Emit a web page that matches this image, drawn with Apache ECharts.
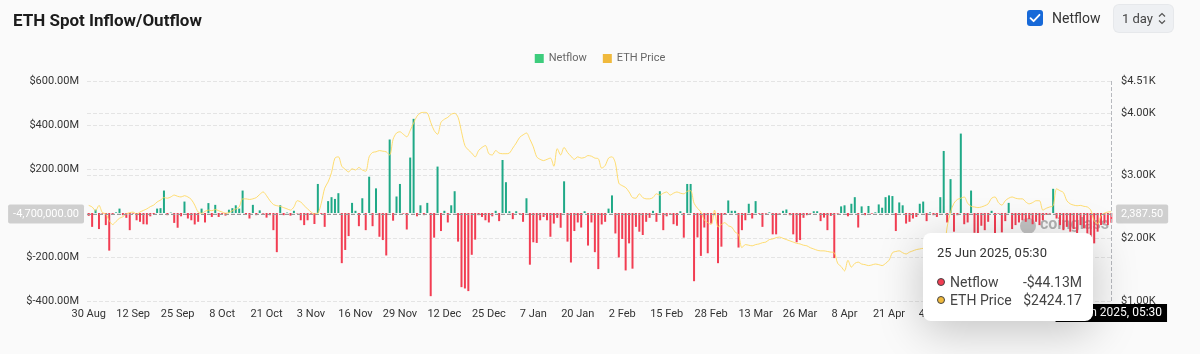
<!DOCTYPE html>
<html>
<head>
<meta charset="utf-8">
<title>ETH Spot Inflow/Outflow</title>
<script src="https://cdn.jsdelivr.net/npm/echarts@6/dist/echarts.min.js"></script>
<style>
  html, body { margin: 0; padding: 0; background: #fafafa; }
  #wrap { position: relative; width: 1200px; height: 354px; }
  #chart { position: absolute; left: 0; top: 0; width: 1200px; height: 354px; }
  .chk { position: absolute; left: 1027px; top: 10px; width: 16px; height: 16px; border-radius: 3px; background: #1769d8; }
  .chk-label { position: absolute; left: 1052px; top: 8px; font: 14px Roboto, sans-serif; color: #333; line-height: 20px; }
  .sel { position: absolute; left: 1114px; top: 5px; width: 59px; height: 27px; border-radius: 5px; background: #eef0f3;
         box-shadow: 0 0 0 1px #e6e8eb; font: 13px Roboto, sans-serif; color: #444; line-height: 27px; }
  .sel span { position: absolute; left: 8px; }
  .sel svg { position: absolute; left: 44px; top: 7px; }
</style>
</head>
<body>
<div id="wrap">
  <div id="chart"></div>
  <div class="chk">
    <svg width="16" height="16" viewBox="0 0 16 16"><path d="M3.5 8.2 L6.6 11.2 L12.5 4.8" fill="none" stroke="#fff" stroke-width="1.8" stroke-linecap="round" stroke-linejoin="round"/></svg>
  </div>
  <div class="chk-label">Netflow</div>
  <div class="sel"><span>1 day</span>
    <svg width="8" height="13" viewBox="0 0 8 13"><path d="M1 4.5 L4 1.5 L7 4.5 M1 8.5 L4 11.5 L7 8.5" fill="none" stroke="#555" stroke-width="1.2"/></svg>
  </div>
</div>
<script>
// daily netflow, in millions of USD, from 30 Aug 2024
const netflowM = [
  -13, -63, 15, -73, -3, -55, -171, -4, 3, 20,
  -10, -22, -78, -3, -33, -40, -51, -52, -15, -5,
  20, 22, 102, -10, 2, -45, -67, -15, 52, -25,
  -33, -52, -40, 20, -43, 45, -18, 37, -18, -4,
  -12, 15, 22, 35, 20, 102, -8, -25, 37, -10,
  12, -3, -21, -10, -78, -178, 35, -10, 2, -12,
  10, -2, -33, -55, -33, -3, -50, 132, -4, -63,
  54, 72, 64, 90, -228, -168, -105, 46, 10, -60,
  67, -78, 165, -60, 112, -108, -123, -193, 334, -35,
  75, 132, -3, -75, 252, 428, -15, 35, -10, 46,
  -378, -112, 211, -82, 10, -43, 35, 99, -130, -337,
  -343, -355, -190, -121, -10, -18, -33, -43, -15, 10,
  -37, 241, 140, 8, -28, 8, -3, -40, 67, -235,
  -133, -136, -33, -18, -33, -108, -48, -22, -67, 144,
  -130, -225, -82, -43, -66, 8, -148, -43, -178, -255,
  -52, -40, 20, 80, -93, -202, -118, -261, -138, -253,
  -63, -85, -100, -40, -22, 10, -40, 99, -78, -15,
  -3, -51, -58, 8, -112, 132, 132, -310, -111, -195,
  -66, -183, -48, -10, -228, -153, -5, 57, 10, 10,
  -157, -78, -33, 42, -25, 54, -3, -63, -3, 3,
  -97, -97, -3, 10, 16, -10, -97, -133, -123, -22,
  -10, -3, 8, 8, -37, -21, -78, -13, -205, -3,
  30, 35, -15, 42, 72, -66, 30, -10, 32, -3,
  3, 39, 24, 72, 80, 77, -82, 48, 35, -48,
  -40, -25, -18, 42, 52, -37, 3, -10, -18, 72,
  282, -43, 154, -85, -10, 361, -51, -43, 102, -90,
  -103, -58, -78, -40, 10, -100, -3, -88, -37, 46,
  -73, -55, -43, -33, -40, -28, -51, -40, -55, -33,
  -8, -3, 110, -25, -55, -78, -63, -85, -73, -100,
  -55, -70, -97, -255, -138, -85, -55, -48, -55, -44.13
];

// daily ETH price, USD
const ethPrice = [
  2525, 2500, 2440, 2525, 2410, 2390, 2280, 2220, 2270, 2320,
  2345, 2390, 2410, 2418, 2385, 2420, 2445, 2470, 2505, 2530,
  2580, 2610, 2650, 2640, 2660, 2690, 2670, 2660, 2680, 2660,
  2620, 2530, 2420, 2400, 2430, 2450, 2440, 2460, 2440, 2420,
  2400, 2410, 2440, 2470, 2500, 2630, 2630, 2620, 2630, 2650,
  2700, 2740, 2680, 2600, 2540, 2520, 2510, 2490, 2470, 2450,
  2500, 2600, 2580, 2520, 2470, 2420, 2390, 2400, 2560, 2800,
  2900, 3050, 3280, 3300, 3150, 3100, 3060, 3110, 3090, 3130,
  3090, 3070, 3300, 3370, 3380, 3400, 3390, 3380, 3330, 3580,
  3680, 3700, 3660, 3620, 3720, 3840, 3950, 4000, 4010, 4000,
  3850, 3720, 3660, 3850, 3900, 3930, 3980, 3995, 3930, 3700,
  3480, 3410, 3360, 3300, 3400, 3450, 3480, 3350, 3330, 3400,
  3360, 3350, 3350, 3360, 3440, 3520, 3610, 3650, 3680, 3580,
  3460, 3300, 3260, 3240, 3260, 3280, 3150, 3430, 3330, 3450,
  3370, 3310, 3260, 3300, 3280, 3290, 3320, 3310, 3280, 3270,
  3120, 3160, 3280, 3300, 3200, 2880, 2840, 2810, 2740, 2650,
  2640, 2710, 2650, 2630, 2630, 2650, 2710, 2690, 2720, 2740,
  2690, 2720, 2740, 2720, 2710, 2750, 2760, 2560, 2480, 2420,
  2290, 2250, 2220, 2450, 2180, 2220, 2250, 2200, 2180, 2100,
  2060, 1850, 1900, 1890, 1880, 1900, 1910, 1930, 1940, 1980,
  1990, 2010, 2020, 2000, 1980, 1960, 1940, 1920, 1910, 1890,
  1880, 1850, 1830, 1810, 1800, 1800, 1790, 1780, 1770, 1600,
  1550, 1480, 1650, 1540, 1600, 1620, 1590, 1580, 1565, 1575,
  1590, 1580, 1565, 1600, 1650, 1770, 1790, 1800, 1770, 1750,
  1780, 1800, 1820, 1830, 1840, 1830, 1820, 1810, 1800, 1820,
  1820, 2180, 2420, 2560, 2620, 2640, 2660, 2560, 2510, 2500,
  2490, 2500, 2520, 2550, 2640, 2660, 2570, 2530, 2600, 2640,
  2660, 2640, 2630, 2630, 2580, 2550, 2570, 2600, 2600, 2450,
  2480, 2500, 2520, 2790, 2760, 2730, 2600, 2550, 2530, 2520,
  2525, 2510, 2500, 2450, 2280, 2230, 2360, 2400, 2420, 2424.17
];

const startDate = '2024-08-30';
const sampleTime = '05:30';
const monthNames = ['Jan', 'Feb', 'Mar', 'Apr', 'May', 'Jun', 'Jul', 'Aug', 'Sep', 'Oct', 'Nov', 'Dec'];

const upColor = '#1fa987';
const downColor = '#f23d52';
const legendGreen = '#3dcc7c';
const priceColor = '#f0b93c';

// one category per day
const days = [];
const t0 = Date.parse(startDate + 'T00:00:00Z');
for (let i = 0; i < netflowM.length; i++) {
    days.push(new Date(t0 + i * 86400000).toISOString().slice(0, 10));
}

function shortDate(s) {
    const d = new Date(s + 'T00:00:00Z');
    return d.getUTCDate() + ' ' + monthNames[d.getUTCMonth()];
}
function fullDate(s) {
    const d = new Date(s + 'T00:00:00Z');
    return d.getUTCDate() + ' ' + monthNames[d.getUTCMonth()] + ' ' + d.getUTCFullYear() + ', ' + sampleTime;
}
function fmtNum(v) {
    return Number(v).toLocaleString('en-US', { minimumFractionDigits: 2, maximumFractionDigits: 2 });
}

const flowData = netflowM.map(v => ({
    value: v * 1e6,
    itemStyle: { color: v >= 0 ? upColor : downColor }
}));

function tipHtml(params) {
    let html = '<div style="font-size:13px;color:#333;line-height:20px;margin-bottom:10px">' +
        fullDate(params[0].axisValue) + '</div>';
    params.forEach(p => {
        const isFlow = p.seriesName === 'Netflow';
        const v = p.value;
        const c = isFlow ? (v >= 0 ? upColor : downColor) : priceColor;
        const txt = isFlow ? (v < 0 ? '-$' : '$') + (Math.abs(v) / 1e6).toFixed(2) + 'M' : '$' + v.toFixed(2);
        html += '<div style="display:flex;align-items:center;height:18px;line-height:18px;font-size:14px;color:#444">' +
            '<span style="display:inline-block;width:6px;height:6px;border-radius:50%;background:' + c +
            ';border:1px solid #444;margin-right:5px"></span>' +
            '<span style="flex:1">' + p.seriesName + '</span><span>' + txt + '</span></div>';
    });
    return html;
}

const chart = echarts.init(document.getElementById('chart'));

const option = {
    backgroundColor: '#fafafa',
    animation: false,
    textStyle: { fontFamily: 'Roboto, sans-serif' },
    title: {
        text: 'ETH Spot Inflow/Outflow',
        left: 8,
        top: 8,
        textStyle: { fontFamily: 'Roboto', fontSize: 17, fontWeight: 'bold', color: '#1c1c1c' }
    },
    legend: {
        top: 48,
        left: 'center',
        icon: 'rect',
        itemWidth: 9,
        itemHeight: 9,
        itemGap: 16,
        textStyle: { color: '#666', fontSize: 11 },
        data: [
            { name: 'Netflow', itemStyle: { color: legendGreen } },
            { name: 'ETH Price', itemStyle: { color: priceColor } }
        ]
    },
    grid: { left: 87, right: 87, top: 81, bottom: 53 },
    tooltip: {
        trigger: 'axis',
        triggerOn: 'none',
        alwaysShowContent: true,
        position: [923, 233],
        axisPointer: {
            type: 'cross',
            crossStyle: { color: '#999', width: 1, type: 'dashed' }
        },
        backgroundColor: '#fff',
        borderWidth: 0,
        padding: [10, 11, 12, 14],
        extraCssText: 'width:145px;border-radius:8px;box-shadow:0 10px 45px rgba(0,0,0,0.22);',
        formatter: tipHtml
    },
    xAxis: {
        type: 'category',
        data: days,
        axisLine: { show: false, onZero: false },
        axisTick: { show: false },
        axisLabel: {
            interval: 12,
            color: '#333',
            fontSize: 11,
            margin: 8,
            formatter: shortDate
        },
        axisPointer: {
            label: {
                backgroundColor: '#000',
                color: '#fff',
                fontSize: 12,
                padding: [3, 5],
                borderRadius: 0,
                formatter: p => fullDate(p.value)
            }
        }
    },
    yAxis: [
        {
            type: 'value',
            min: -400e6,
            max: 600e6,
            interval: 200e6,
            axisLine: { show: false },
            axisTick: { show: false },
            splitLine: { lineStyle: { color: '#e4e4e4', type: 'dashed' } },
            axisLabel: {
                color: '#333',
                fontSize: 11,
                margin: 8,
                formatter: v => '$' + (v / 1e6).toFixed(2) + 'M'
            },
            axisPointer: {
                label: {
                    backgroundColor: '#cfcfcf',
                    color: '#fff',
                    fontSize: 11,
                    padding: [4, 5],
                    borderRadius: 2,
                    formatter: p => fmtNum(p.value)
                }
            }
        },
        {
            type: 'value',
            min: 1000,
            max: 4510,
            interval: 1000,
            axisLine: { show: false },
            axisTick: { show: false },
            splitLine: { lineStyle: { color: '#e4e4e4', type: 'dashed' } },
            axisLabel: {
                color: '#333',
                fontSize: 11,
                margin: 8,
                formatter: v => '$' + (v / 1000).toFixed(2) + 'K'
            },
            axisPointer: {
                label: {
                    backgroundColor: '#cfcfcf',
                    color: '#fff',
                    fontSize: 11,
                    padding: [4, 5],
                    borderRadius: 2,
                    formatter: p => fmtNum(p.value)
                }
            }
        }
    ],
    // faint site watermark over the plot
    graphic: [{
        type: 'group',
        left: 1020,
        top: 217,
        z: 50,
        children: [
            { type: 'circle', shape: { cx: 8, cy: 9, r: 8 }, style: { fill: 'rgba(0,0,0,0.22)' } },
            { type: 'text', x: 20, y: 0, style: { text: 'coinglass', fill: 'rgba(90,90,90,0.45)', font: 'bold 16px Roboto' } }
        ]
    }],
    series: [
        {
            name: 'Netflow',
            type: 'bar',
            color: legendGreen,
            barWidth: 2,
            data: flowData
        },
        {
            name: 'ETH Price',
            type: 'line',
            yAxisIndex: 1,
            color: priceColor,
            data: ethPrice,
            smooth: 0.3,
            symbol: 'none',
            z: 3,
            lineStyle: { color: 'rgba(247, 196, 80, 0.85)', width: 1 }
        }
    ]
};

chart.setOption(option);
chart.dispatchAction({ type: 'showTip', x: 1111, y: 214.034 });
</script>
</body>
</html>
